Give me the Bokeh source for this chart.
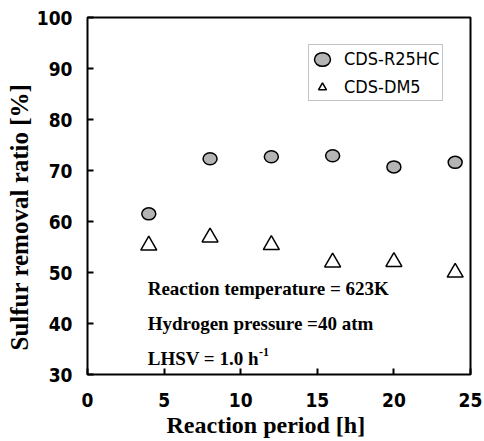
from bokeh.plotting import figure
from bokeh.models import Label, Legend, LegendItem, FixedTicker, Range1d, Title
from bokeh.embed import file_html
from bokeh.resources import INLINE

# Data
hours = [4, 8, 12, 16, 20, 24]
r25hc = [61.5, 72.3, 72.7, 72.9, 70.7, 71.6]
dm5 = [55.3, 56.9, 55.4, 52.0, 52.1, 50.0]
series_names = ["CDS-R25HC", "CDS-DM5"]
x_ticks = [0, 5, 10, 15, 20, 25]
y_ticks = [30, 40, 50, 60, 70, 80, 90, 100]
notes = ["Reaction temperature = 623K", "Hydrogen pressure =40 atm", "LHSV = 1.0 h"]
x_title = "Reaction period [h]"
y_title = "Sulfur removal ratio [%]"

SERIF = "Liberation Serif"
NARROW = "DejaVu Sans Condensed"

p = figure(width=484, height=441, output_backend="svg", toolbar_location=None,
           x_range=Range1d(0, 25), y_range=Range1d(30, 100),
           min_border_left=87, min_border_right=14, min_border_top=17, min_border_bottom=67)
p.grid.visible = False
p.outline_line_color = "black"
p.outline_line_width = 2
p.background_fill_color = "white"
p.border_fill_color = "white"

for ax in (p.xaxis[0], p.yaxis[0]):
    ax.axis_line_color = None
    ax.major_tick_in = 6
    ax.major_tick_out = 0
    ax.minor_tick_in = 0
    ax.minor_tick_out = 0
    ax.major_tick_line_color = "black"
    ax.major_tick_line_width = 2
    ax.major_label_text_font = NARROW
    ax.major_label_text_font_size = "19px"
    ax.major_label_text_font_style = "bold"
    ax.major_label_text_color = "black"

p.xaxis.ticker = FixedTicker(ticks=x_ticks)
p.yaxis.ticker = FixedTicker(ticks=y_ticks)
p.xaxis.major_label_standoff = 18
p.yaxis.major_label_standoff = 15

# axis titles as side titles, offset to match the reference
p.add_layout(Title(text=x_title, align="left", offset=79, standoff=0,
                   text_font=SERIF, text_font_style="bold", text_font_size="24px",
                   text_color="black"), "below")
p.add_layout(Title(text=y_title, align="left", offset=24, standoff=2,
                   text_font=SERIF, text_font_style="bold", text_font_size="25px",
                   text_color="black"), "left")

c = p.ellipse(x=hours, y=r25hc, width=14, height=12, width_units="screen", height_units="screen",
              fill_color="#b4b4b4", line_color="black", line_width=1.5)
t = p.scatter(x=hours, y=dm5, marker="triangle", size=16,
              fill_color="white", line_color="black", line_width=1.5)

legend = Legend(items=[LegendItem(label=series_names[0], renderers=[c]),
                       LegendItem(label=series_names[1], renderers=[t])],
                location=(221, 273))
legend.border_line_color = "#888888"
legend.border_line_width = 1
legend.background_fill_color = "white"
legend.background_fill_alpha = 1
legend.label_text_font = NARROW
legend.label_text_font_size = "18px"
legend.label_text_color = "black"
legend.glyph_width = 20
legend.glyph_height = 20
legend.label_height = 20
legend.spacing = 7
legend.padding = 3
legend.margin = 0
legend.label_standoff = 12
p.add_layout(legend)

note_y = [46.9, 40.0, 33.1]
for txt, yy in zip(notes, note_y):
    p.add_layout(Label(x=3.93, y=yy, text=txt, text_font=SERIF, text_font_style="bold",
                       text_font_size="19px", text_color="black", text_baseline="middle"))
p.add_layout(Label(x=11.2, y=34.5, text="-1", text_font=SERIF, text_font_style="bold",
                   text_font_size="12px", text_color="black", text_baseline="middle"))

open("out.html", "w").write(file_html(p, INLINE))
